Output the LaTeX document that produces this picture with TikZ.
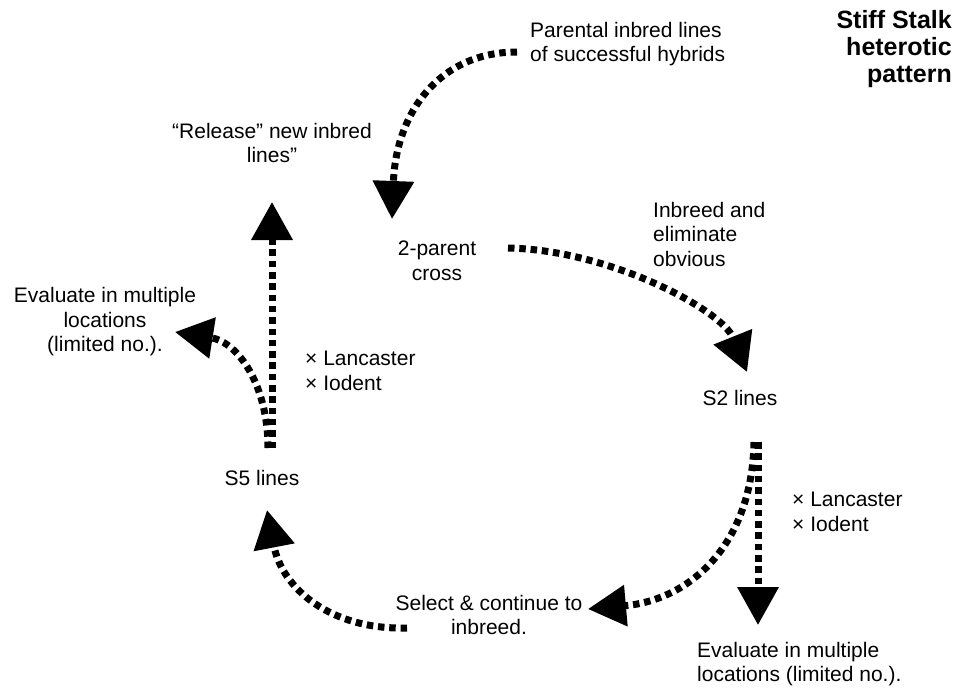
\documentclass[tikz,border=0pt]{standalone}
\usepackage{fontspec}
\setmainfont{Liberation Sans}
\usetikzlibrary{arrows.meta}
\begin{document}
\begin{tikzpicture}[x=1pt,y=-1pt,
  lbl/.style={inner sep=0pt,font=\fontsize{21}{24.5}\selectfont},
  ttl/.style={inner sep=0pt,font=\fontsize{25}{27}\selectfont\bfseries,align=right,anchor=east},
  flow/.style={line width=7pt,dash pattern=on 6.5pt off 4.8pt,-{Triangle[length=38pt,width=40pt]}}]
\useasboundingbox (0,0) rectangle (957,689);
% texts
\node[ttl] (title) at (952,49) {Stiff Stalk\\heterotic\\pattern};
\node[lbl,align=left,anchor=west] (parental) at (530,44) {Parental inbred lines\\of successful hybrids};
\node[lbl,align=center] (release) at (272,143) {“Release” new inbred\\lines”};
\node[lbl,align=center] (cross) at (437,261) {2-parent\\cross};
\node[lbl,align=left,anchor=west] (inbreed) at (653,234) {Inbreed and\\eliminate\\obvious};
\node[lbl] (s2) at (740,398) {S2 lines};
\node[lbl,align=left,anchor=west] (xr) at (792,512) {× Lancaster\\× Iodent};
\node[lbl,align=left,anchor=west] (evalr) at (697,664) {Evaluate in multiple\\locations (limited no.).};
\node[lbl,align=center] (select) at (489,615) {Select \& continue to\\inbreed.};
\node[lbl] (s5) at (262,478) {S5 lines};
\node[lbl,align=left,anchor=west] (xl) at (305,371) {× Lancaster\\× Iodent};
\node[lbl,align=center] (evall) at (105,322) {Evaluate in multiple\\locations\\(limited no.).};
% connector ends
\coordinate (a1s) at (517,52);   \coordinate (a1e) at (392,219);
\coordinate (a2s) at (508,248);  \coordinate (a2e) at (747,372);
\coordinate (a3s) at (758,442);  \coordinate (a3e) at (758,625);
\coordinate (a4s) at (754,442);  \coordinate (a4e) at (588,609);
\coordinate (a5s) at (407,628);  \coordinate (a5e) at (267,510);
\coordinate (a6s) at (272,448);  \coordinate (a6e) at (272,202);
\coordinate (a7s) at (268,448);  \coordinate (a7e) at (175,332);
% connectors
\draw[flow] (a1s) .. controls (440,52) and (396,112) .. (a1e);
\draw[flow] (a2s) .. controls (610,250) and (722,310) .. (a2e);
\draw[flow] (a3s) -- (a3e);
\draw[flow] (a4s) .. controls (752,545) and (690,600) .. (a4e);
\draw[flow] (a5s) .. controls (330,630) and (282,588) .. (a5e);
\draw[flow] (a6s) -- (a6e);
\draw[flow] (a7s) .. controls (268,385) and (238,342) .. (a7e);
\end{tikzpicture}
\end{document}
